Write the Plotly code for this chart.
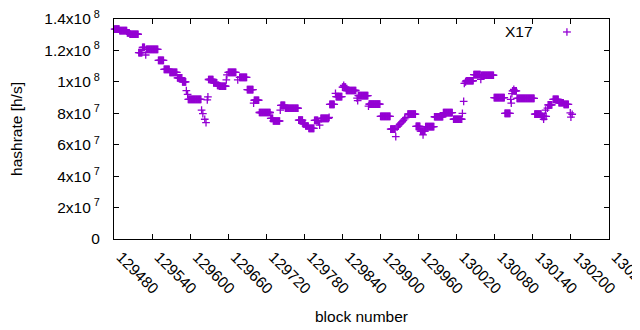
import plotly.graph_objects as go

# Runs of consecutive blocks sharing the same estimated hashrate
run_first = [129481,129489,129501,129505,129519,129525,129530,129531,129550,129559,129568,129580,129588,129594,129596,129597,
             129618,129620,129623,129625,129627,129628,129629,129637,129643,129646,129657,129658,129660,129675,129678,129690,
             129700,129701,129709,129727,129731,129742,129743,129750,129771,129778,129782,129787,129796,129802,129804,129806,
             129819,129820,129829,129830,129840,129842,129843,129846,129863,129864,129865,129881,129882,129900,129916,129924,
             129926,129928,129930,129932,129934,129936,129938,129940,129943,129956,129963,129967,129968,129971,129985,129999,
             130015,130029,130031,130032,130034,130035,130047,130058,130059,130079,130096,130105,130106,130107,130108,130110,
             130111,130115,130143,130154,130157,130158,130160,130161,130163,130164,130172,130181,130189,130199,130200,130202]
run_last = [129488,129500,129504,129518,129524,129528,129530,129549,129558,129567,129579,129587,129593,129594,129596,129617,
            129618,129620,129623,129625,129627,129628,129636,129642,129645,129656,129657,129658,129672,129675,129689,129699,
            129700,129708,129726,129730,129741,129742,129749,129770,129777,129781,129786,129795,129801,129802,129804,129818,
            129819,129827,129829,129839,129841,129842,129845,129861,129863,129864,129880,129881,129899,129915,129923,129924,
            129926,129928,129930,129932,129934,129936,129938,129940,129955,129962,129966,129967,129970,129984,129998,130013,
            130028,130029,130031,130032,130034,130046,130057,130058,130078,130095,130104,130105,130106,130107,130109,130110,
            130114,130142,130153,130156,130157,130159,130160,130161,130163,130170,130180,130188,130196,130199,130200,130202]
run_hashrate = [1.336e8,1.326e8,1.312e8,1.303e8,1.186e8,1.219e8,1.171e8,1.207e8,1.137e8,1.080e8,1.060e8,1.025e8,1.000e8,9.44e7,9.20e7,8.88e7,
                8.20e7,7.98e7,7.62e7,7.40e7,8.85e7,9.05e7,1.015e8,9.93e7,9.78e7,9.72e7,1.012e8,1.044e8,1.060e8,1.012e8,1.028e8,9.51e7,
                8.65e7,8.83e7,8.05e7,7.68e7,7.51e7,8.20e7,8.50e7,8.32e7,7.57e7,7.32e7,7.19e7,7.04e7,7.55e7,7.46e7,7.25e7,7.68e7,
                7.74e7,8.57e7,9.27e7,9.06e7,9.67e7,9.78e7,9.67e7,9.45e7,8.97e7,8.81e7,9.13e7,8.46e7,8.58e7,7.80e7,6.99e7,6.51e7,
                7.12e7,7.20e7,7.30e7,7.38e7,7.46e7,7.55e7,7.64e7,7.72e7,7.95e7,7.17e7,6.87e7,6.62e7,6.87e7,7.15e7,7.78e7,8.04e7,
                7.62e7,8.00e7,8.76e7,9.90e7,1.000e8,1.007e8,1.046e8,1.016e8,1.042e8,9.00e7,8.00e7,8.88e7,8.65e7,9.25e7,9.42e7,9.52e7,
                9.42e7,8.95e7,7.95e7,7.80e7,7.62e7,7.80e7,8.20e7,7.80e7,8.33e7,8.53e7,8.89e7,8.67e7,8.57e7,8.02e7,7.76e7,7.94e7]

y_tickvals = [0, 2e7, 4e7, 6e7, 8e7, 1e8, 1.2e8, 1.4e8]
y_ticktext = ["0", "2x10<sup> 7</sup>", "4x10<sup> 7</sup>", "6x10<sup> 7</sup>", "8x10<sup> 7</sup>",
              "1x10<sup> 8</sup>", "1.2x10<sup> 8</sup>", "1.4x10<sup> 8</sup>"]
x_tickvals = [129480, 129540, 129600, 129660, 129720, 129780, 129840, 129900,
              129960, 130020, 130080, 130140, 130200, 130260]
series_name = "X17"

blocks, rates = [], []
for a, b, v in zip(run_first, run_last, run_hashrate):
    for blk in range(a, b + 1):
        blocks.append(blk)
        rates.append(v)

color = "#9400D3"
font = "Liberation Sans, Arial, sans-serif"
fs = 15.5

fig = go.Figure()
fig.add_trace(go.Scatter(
    x=blocks, y=rates, mode="markers", name=series_name, showlegend=False, cliponaxis=False,
    marker=dict(symbol="cross-thin", size=5.5, color=color, line=dict(color=color, width=1.3)),
))

axis_common = dict(showline=True, linecolor="black", linewidth=1, mirror="allticks",
                   ticks="inside", ticklen=5, tickcolor="black", showgrid=False, zeroline=False,
                   automargin=False, ticklabeloverflow="allow",
                   tickfont=dict(family=font, size=fs, color="black"))

fig.update_xaxes(range=[129480, 130260], tickvals=x_tickvals,
                 ticktext=[str(v) for v in x_tickvals], tickangle=45,
                 ticklabelshift=7, ticklabelstandoff=2,
                 title=dict(text="block number", font=dict(family=font, size=fs, color="black"), standoff=14),
                 **axis_common)
fig.update_yaxes(range=[0, 1.4e8], tickvals=y_tickvals, ticktext=y_ticktext, ticklabelstandoff=10,
                 title=dict(text="hashrate [h/s]", font=dict(family=font, size=fs, color="black"), standoff=18),
                 **axis_common)

# gnuplot-style key: label followed by sample symbol
fig.add_annotation(xref="paper", yref="paper", x=0.818, y=0.941, text=series_name, showarrow=False,
                   font=dict(family=font, size=fs, color="black"), xanchor="center", yanchor="middle")
fig.add_shape(type="line", xref="paper", yref="paper", x0=0.907, x1=0.923, y0=0.941, y1=0.941,
              line=dict(color=color, width=1.3))
fig.add_shape(type="line", xref="paper", yref="paper", x0=0.915, x1=0.915, y0=0.924, y1=0.958,
              line=dict(color=color, width=1.3))

# the page body adds an 8px offset; margins compensate so the plot area sits at x 114-609, y 19-239
fig.update_layout(width=640, height=330, margin=dict(l=106, r=39, t=11, b=99),
                  paper_bgcolor="white", plot_bgcolor="white", showlegend=False)

fig.write_html("out.html")
